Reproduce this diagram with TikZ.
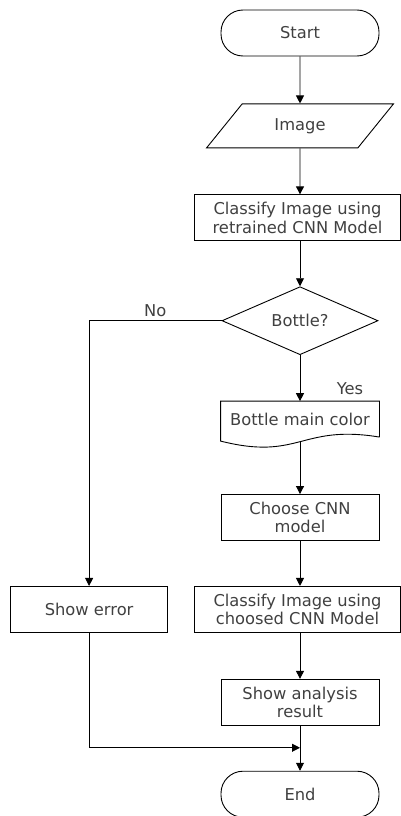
\documentclass[tikz,border=0pt]{standalone}
\usepackage{fontspec}
\setmainfont{DejaVu Sans}
\usetikzlibrary{shapes.geometric, arrows.meta, positioning}
\tikzstyle{terminal} = [rectangle, draw, rounded corners=22pt, text centered, minimum height=46pt, minimum width=158pt]
\tikzstyle{block} = [rectangle, draw, text centered, align=center, inner sep=2pt, minimum height=46pt, minimum width=158pt]
\tikzstyle{io} = [trapezium, draw, trapezium left angle=51, trapezium right angle=129, text centered, minimum height=44pt, minimum width=185pt]
\tikzstyle{decision} = [diamond, draw, aspect=2.3, text centered, inner sep=1pt, minimum height=68pt, minimum width=156pt]
\tikzstyle{arrow} = [line width=0.9pt,-{Triangle[width=8pt,length=8pt]}]

\begin{document}
\begin{tikzpicture}[node distance=46pt, line width=0.9pt, font=\fontsize{16.3}{18.5}\selectfont, text=black!75]

\useasboundingbox (0,0) rectangle (401pt,-816pt);

% Nodes for Flowchart
\node (start) [terminal] at (300pt,-33pt) {Start};
\node (image) [io, below=47pt of start] {Image};
\node (classify) [block, below=46pt of image, minimum width=206pt, xshift=-2.5pt] {Classify Image using\\retrained CNN Model};
\node (decide) [decision, below=45pt of classify, xshift=2.5pt] {Bottle?};
\node (colour) [block, draw=none, minimum height=35pt, below=46pt of decide] {Bottle main color};
\node (choose) [block, below=57pt of colour] {Choose CNN\\model};
\node (classify2) [block, below=45pt of choose, minimum width=206pt, xshift=-2.5pt] {Classify Image using\\choosed CNN Model};
\node (error) [block, left=26pt of classify2, minimum width=157pt] {Show error};
\node (result) [block, below=46pt of classify2, xshift=2.5pt] {Show analysis\\result};
\node (end) [terminal, below=45pt of result] {End};

% Document shape with wavy bottom
\draw (colour.south east) -- (colour.north east) -- (colour.north west) -- ([yshift=-4pt]colour.south west)
  .. controls ([xshift=79pt,yshift=-24pt]colour.south west) and ([xshift=-79pt,yshift=13pt]colour.south east) .. (colour.south east);
\coordinate (colourb) at ([yshift=-4.6pt]colour.south);
\coordinate (merge) at ([yshift=-22pt]result.south);

% Arrows Connecting Steps
\draw[arrow] (start) -- (image);
\draw[arrow] (image) -- (image |- classify.north);
\draw[arrow] (classify.south -| decide) -- (decide);
\draw[arrow] (decide) -- (colour) node[pos=1, above right, xshift=33pt, yshift=3pt] {Yes};
\draw[arrow] (decide.west) -| (error) node[pos=0.25, above] {No};
\draw[arrow] (colourb) -- (choose);
\draw[arrow] (choose) -- (choose |- classify2.north);
\draw[arrow] (classify2.south -| result) -- (result);
\draw[arrow] (error) |- (merge);
\draw[arrow] (result) -- (end);

\end{tikzpicture}
\end{document}
